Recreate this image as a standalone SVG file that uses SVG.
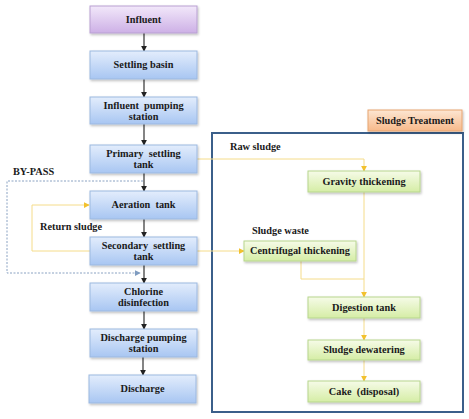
<svg xmlns="http://www.w3.org/2000/svg" width="469" height="419" viewBox="0 0 469 419">
<defs>
<linearGradient id="gBlue" x1="0" y1="0" x2="0" y2="1"><stop offset="0" stop-color="#e3edfc"/><stop offset="1" stop-color="#a8c6f2"/></linearGradient>
<linearGradient id="gPurple" x1="0" y1="0" x2="0" y2="1"><stop offset="0" stop-color="#f2e8fa"/><stop offset="1" stop-color="#cdb0e6"/></linearGradient>
<linearGradient id="gGreen" x1="0" y1="0" x2="0" y2="1"><stop offset="0" stop-color="#f6fbe8"/><stop offset="1" stop-color="#d5eda5"/></linearGradient>
<linearGradient id="gOrange" x1="0" y1="0" x2="0" y2="1"><stop offset="0" stop-color="#fde6d2"/><stop offset="1" stop-color="#f7b98a"/></linearGradient>
<filter id="sh" x="-10%" y="-20%" width="125%" height="160%"><feDropShadow dx="1" dy="1.5" stdDeviation="1" flood-color="#000" flood-opacity="0.25"/></filter>
<marker id="aBlack" viewBox="0 0 8 8" refX="7" refY="4" markerWidth="6" markerHeight="6" orient="auto" markerUnits="userSpaceOnUse"><path d="M0,0 L8,4 L0,8 z" fill="#222"/></marker>
<marker id="aYellow" viewBox="0 0 8 8" refX="7" refY="4" markerWidth="6" markerHeight="6" orient="auto" markerUnits="userSpaceOnUse"><path d="M0,0 L8,4 L0,8 z" fill="#f2c12e"/></marker>
<marker id="aGray" viewBox="0 0 8 8" refX="7" refY="4" markerWidth="6" markerHeight="6" orient="auto" markerUnits="userSpaceOnUse"><path d="M0,0 L8,4 L0,8 z" fill="#7f9cc0"/></marker>
</defs>
<style>
text{font-family:"Liberation Serif","Times New Roman",serif;font-weight:bold;font-size:10.3px;fill:#1a1a1a;text-anchor:middle;white-space:pre}
.lbl{text-anchor:start}
.blue{fill:url(#gBlue);stroke:#9cb9e0;stroke-width:1;filter:url(#sh)}
.purple{fill:url(#gPurple);stroke:#b9a0d2;stroke-width:1;filter:url(#sh)}
.green{fill:url(#gGreen);stroke:#b7d68e;stroke-width:1;filter:url(#sh)}
.orange{fill:url(#gOrange);stroke:#e8a570;stroke-width:1;filter:url(#sh)}
.blk{stroke:#333;stroke-width:1.2;fill:none;marker-end:url(#aBlack)}
.yel{stroke:#f5dc8a;stroke-width:1;fill:none}
.yelA{stroke:#f5dc8a;stroke-width:1;fill:none;marker-end:url(#aYellow)}
.byp{stroke:#8aa2c2;stroke-width:1;stroke-dasharray:2,1.5;fill:none;marker-end:url(#aGray)}
</style>
<rect x="212" y="133" width="251" height="279" fill="none" stroke="#3b5f8a" stroke-width="2"/>
<g id="connectors">
<line class="blk" x1="144" y1="33" x2="144" y2="51"/>
<line class="blk" x1="144" y1="79" x2="144" y2="97"/>
<line class="blk" x1="144" y1="124" x2="144" y2="145"/>
<line class="blk" x1="144" y1="173" x2="144" y2="191"/>
<line class="blk" x1="144" y1="219" x2="144" y2="237"/>
<line class="blk" x1="144" y1="265" x2="144" y2="283"/>
<line class="blk" x1="144" y1="311" x2="144" y2="329"/>
<line class="blk" x1="143" y1="357" x2="143" y2="375"/>
<path class="byp" d="M143,181 H7 V273 H140"/>
<path class="yelA" d="M90,251 H32 V205 H89"/>
<path class="yelA" d="M197,159 H364 V171"/>
<path class="yelA" d="M197,251 H244"/>
<path class="yelA" d="M364,192 V297"/>
<path class="yel" d="M301,261 V279 H364"/>
<line class="yelA" x1="364" y1="318" x2="364" y2="340"/>
<line class="yelA" x1="364" y1="360" x2="364" y2="381"/>
</g>
<g id="influent"><rect class="purple" x="90" y="6" width="107" height="27"/><text x="143.5" y="23">Influent</text></g>
<g id="settling-basin"><rect class="blue" x="90" y="51" width="107" height="28"/><text x="143.5" y="68">Settling basin</text></g>
<g id="influent-pumping"><rect class="blue" x="90" y="97" width="107" height="27"/><text x="143.5" y="109">Influent  pumping</text><text x="143.5" y="120">station</text></g>
<g id="primary-settling"><rect class="blue" x="90" y="145" width="107" height="28"/><text x="143.5" y="157">Primary  settling</text><text x="143.5" y="168">tank</text></g>
<g id="aeration"><rect class="blue" x="90" y="191" width="107" height="28"/><text x="143.5" y="208">Aeration  tank</text></g>
<g id="secondary-settling"><rect class="blue" x="90" y="237" width="107" height="28"/><text x="143.5" y="249">Secondary  settling</text><text x="143.5" y="260">tank</text></g>
<g id="chlorine"><rect class="blue" x="90" y="283" width="107" height="28"/><text x="143.5" y="295">Chlorine</text><text x="143.5" y="306">disinfection</text></g>
<g id="discharge-pumping"><rect class="blue" x="90" y="329" width="107" height="28"/><text x="143.5" y="341">Discharge pumping</text><text x="143.5" y="352">station</text></g>
<g id="discharge"><rect class="blue" x="89" y="375" width="107" height="28"/><text x="142.5" y="392">Discharge</text></g>
<g id="sludge-treatment"><rect class="orange" x="368" y="110" width="94" height="21"/><text x="415" y="124">Sludge Treatment</text></g>
<g id="gravity"><rect class="green" x="308" y="171" width="112" height="21"/><text x="364" y="185">Gravity thickening</text></g>
<g id="centrifugal"><rect class="green" x="244" y="241" width="112" height="20"/><text x="300" y="254">Centrifugal thickening</text></g>
<g id="digestion"><rect class="green" x="308" y="297" width="112" height="21"/><text x="364" y="311">Digestion tank</text></g>
<g id="dewatering"><rect class="green" x="308" y="340" width="112" height="20"/><text x="364" y="353">Sludge dewatering</text></g>
<g id="cake"><rect class="green" x="308" y="381" width="112" height="21"/><text x="364" y="395">Cake  (disposal)</text></g>
<g id="labels">
<text class="lbl" x="13" y="175">BY-PASS</text>
<text class="lbl" x="40" y="230">Return sludge</text>
<text class="lbl" x="230" y="150">Raw sludge</text>
<text class="lbl" x="252" y="234">Sludge waste</text>
</g>
</svg>
